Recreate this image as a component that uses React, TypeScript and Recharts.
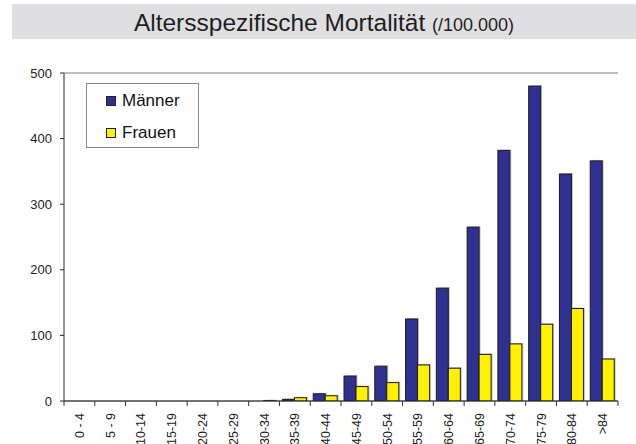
import React from 'react';
import { BarChart, Bar, XAxis, YAxis, CartesianGrid, Legend } from 'recharts';

const ageGroups = ['0 - 4', '5 - 9', '10-14', '15-19', '20-24', '25-29', '30-34', '35-39', '40-44', '45-49', '50-54', '55-59', '60-64', '65-69', '70-74', '75-79', '80-84', '>84'];
const maenner = [0, 0, 0, 0, 0, 0, 0, 2.5, 11, 38, 53, 125, 172, 265, 382, 480, 346, 366];
const frauen = [0, 0, 0, 0, 0, 0, 0.6, 5, 8, 22, 28, 55, 50, 71, 87, 117, 141, 64];
const yTicks = [0, 100, 200, 300, 400, 500];
const seriesNames = ['Männer', 'Frauen'];
const seriesColors = ['#2e3192', '#fff200'];

const data = ageGroups.map((g, i) => ({ group: g, m: maenner[i], f: frauen[i] }));

const FONT = '"Liberation Sans", Arial, Helvetica, sans-serif';

const BarShape = (props: any) => {
  const { x, y, width, height, fill } = props;
  if (!height || height <= 0) return null;
  return (
    <g>
      <rect x={x + 1.5} y={y - 1} width={width} height={height + 1} fill="rgba(0,0,0,0.22)" />
      <rect x={x} y={y} width={width} height={height} fill={fill} stroke="#1c1c1c" strokeWidth={1} />
    </g>
  );
};

const XTick = (props: any) => {
  const { x, y, payload, index } = props;
  const half = payload && payload.offset ? payload.offset : 15.4;
  const labelY = y + 12;
  return (
    <g>
      <line x1={x - half} y1={y} x2={x - half} y2={y + 5} stroke="#333" strokeWidth={1} />
      {index === ageGroups.length - 1 && (
        <line x1={x + half} y1={y} x2={x + half} y2={y + 5} stroke="#333" strokeWidth={1} />
      )}
      <text
        x={x}
        y={labelY}
        dy={4.5}
        transform={`rotate(-90, ${x}, ${labelY})`}
        textAnchor="end"
        fontSize={12.5}
        fontFamily={FONT}
        fill="#222"
      >
        {payload.value}
      </text>
    </g>
  );
};

const LegendBox = (props: any) => {
  const payload = [...(props.payload || [])].sort(
    (a: any, b: any) => seriesNames.indexOf(a.value) - seriesNames.indexOf(b.value)
  );
  return (
    <div
      style={{
        width: 113,
        height: 65,
        boxSizing: 'border-box',
        border: '1px solid #8a8a8a',
        background: '#fff',
        paddingTop: 1,
        paddingLeft: 19,
        fontFamily: FONT,
        fontSize: 17,
        color: '#111',
      }}
    >
      {payload.map((p: any, i: number) => (
        <div key={i} style={{ display: 'flex', alignItems: 'center', height: 32, lineHeight: '20px' }}>
          <span
            style={{
              display: 'inline-block',
              width: 10,
              height: 10,
              boxSizing: 'border-box',
              border: '1px solid #222',
              background: p.color,
              marginRight: 6,
            }}
          />
          <span>{p.value}</span>
        </div>
      ))}
    </div>
  );
};

export default function App() {
  return (
    <div style={{ position: 'absolute', left: 0, top: 0, width: 636, height: 444, background: '#fff', overflow: 'hidden' }}>
      <div
        style={{
          position: 'absolute',
          left: 12,
          top: 4,
          width: 624,
          height: 35,
          background: '#dfdfe1',
          textAlign: 'center',
          lineHeight: '35px',
          fontFamily: FONT,
          fontSize: 24.5,
          color: '#1e1e1e',
          paddingTop: 1,
          boxSizing: 'border-box',
          whiteSpace: 'nowrap',
        }}
      >
        Altersspezifische Mortalität <span style={{ fontSize: 18 }}>(/100.000)</span>
      </div>
      <div style={{ position: 'absolute', left: 0, top: 0 }}>
        <BarChart
          width={636}
          height={444}
          data={data}
          margin={{ top: 73, right: 18, left: 0, bottom: 0 }}
          barCategoryGap={3}
          barGap={0}
        >
          <CartesianGrid vertical={false} stroke="#7d7d7d" strokeWidth={1} />
          <XAxis
            dataKey="group"
            height={43}
            tickSize={0}
            tickMargin={0}
            tickLine={false}
            axisLine={{ stroke: '#2a2a2a', strokeWidth: 1 }}
            tick={<XTick />}
            interval={0}
          />
          <YAxis
            yAxisId="left"
            width={64}
            domain={[0, 500]}
            ticks={yTicks}
            tickSize={4}
            tickMargin={8}
            tickLine={{ stroke: '#2a2a2a' }}
            axisLine={{ stroke: '#2a2a2a', strokeWidth: 1 }}
            tick={{ fontSize: 13, fontFamily: FONT, fill: '#222' }}
            allowDataOverflow
          />
          <YAxis
            yAxisId="right"
            orientation="right"
            width={0}
            domain={[0, 500]}
            tick={false}
            tickLine={false}
            axisLine={{ stroke: '#c6c6c6', strokeWidth: 2 }}
          />
          <Legend
            layout="vertical"
            align="center"
            verticalAlign="middle"
            itemSorter={null}
            wrapperStyle={{ position: 'absolute', left: 86, top: 83, width: 113, height: 65 }}
            content={<LegendBox />}
          />
          <Bar yAxisId="left" dataKey="m" name={seriesNames[0]} fill={seriesColors[0]} isAnimationActive={false} shape={<BarShape />} />
          <Bar yAxisId="left" dataKey="f" name={seriesNames[1]} fill={seriesColors[1]} isAnimationActive={false} shape={<BarShape />} />
        </BarChart>
      </div>
    </div>
  );
}
